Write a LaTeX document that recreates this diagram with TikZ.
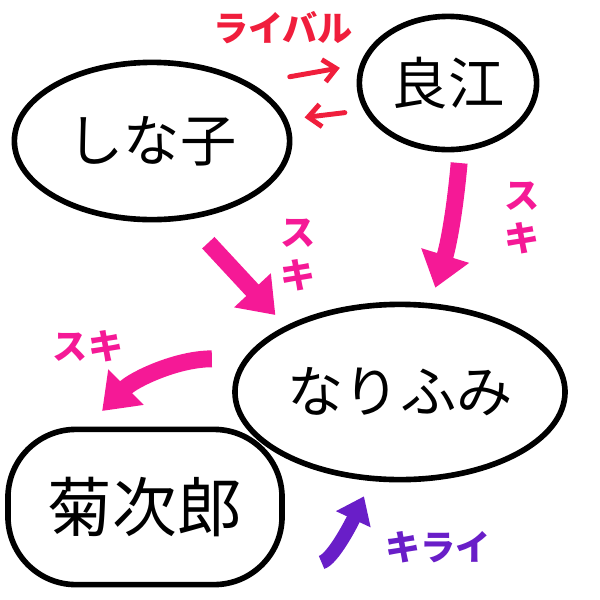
\documentclass[tikz,border=0pt]{standalone}
\usepackage{fontspec}
\newfontfamily\jpfont{Noto Sans CJK JP}
\usepackage{tikz}
\usetikzlibrary{arrows.meta,positioning,shapes.geometric}

\definecolor{sukipink}{RGB}{245,25,150}
\definecolor{rivalred}{RGB}{240,30,60}
\definecolor{kiraiviolet}{RGB}{105,30,200}

\begin{document}
\begin{tikzpicture}[
    x=0.025cm, y=-0.025cm,
    font=\jpfont,
    person/.style={draw, line width=4pt, ellipse, inner sep=0pt, font=\jpfont\fontsize{40}{44}\selectfont},
    tag/.style={align=center, font=\jpfont\bfseries\fontsize{25}{30}\selectfont},
    rival/.style={draw=rivalred, line width=3.5pt, line cap=round, -{Straight Barb[length=9pt,width=16pt]}},
    like/.style={draw=sukipink, line width=12pt, -{Triangle[length=24pt,width=34pt]}},
    hate/.style={draw=kiraiviolet, line width=10pt, -{Triangle[length=18pt,width=26pt]}}
  ]
  \useasboundingbox (0,0) rectangle (600,600);

  % people
  \node[person, minimum width=6.88cm, minimum height=3.93cm] (shina) at (152,141) {しな子};
  \node[person, minimum width=4.43cm, minimum height=3.33cm] (yoshie) at (448,83) {良江};
  \node[person, minimum width=8.25cm, minimum height=4.38cm] (nari) at (400,392) {なりふみ};
  \node[person, rectangle, rounded corners=1.7cm, minimum width=6.85cm, minimum height=3.88cm,
        font=\jpfont\fontsize{46}{50}\selectfont] (kiku) at (145,507) {菊次郎};

  % labels
  \node[tag, text=rivalred] (rivallbl) at (283,28) {ライバル};
  \node[tag, text=sukipink] (sukia) at (298,255) {ス\\キ};
  \node[tag, text=sukipink] (sukib) at (522,218) {ス\\キ};
  \node[tag, text=sukipink] (sukic) at (88,346) {スキ};
  \node[tag, text=kiraiviolet] (kirailbl) at (438,547) {キライ};

  \draw[rival, shorten <=0.97cm, shorten >=0.51cm] (shina.30) -- (yoshie.168);
  \draw[rival, shorten <=0.48cm, shorten >=0.43cm] (yoshie.198) -- (shina.9);
  \draw[like, shorten <=0.78cm, shorten >=0.37cm] (shina.-66) -- (nari.150);
  \draw[like, shorten <=0.28cm, shorten >=0.4cm] (yoshie.-80) to[bend left=6] (nari.71);
  \draw[like, shorten <=0.8cm, shorten >=0.55cm] (nari.168) to[out=180,in=45] (kiku.126);
  \draw[hate, shorten <=0.95cm, shorten >=0.42cm] (kiku.-25) to[out=15,in=-115] (nari.-108);
\end{tikzpicture}
\end{document}
